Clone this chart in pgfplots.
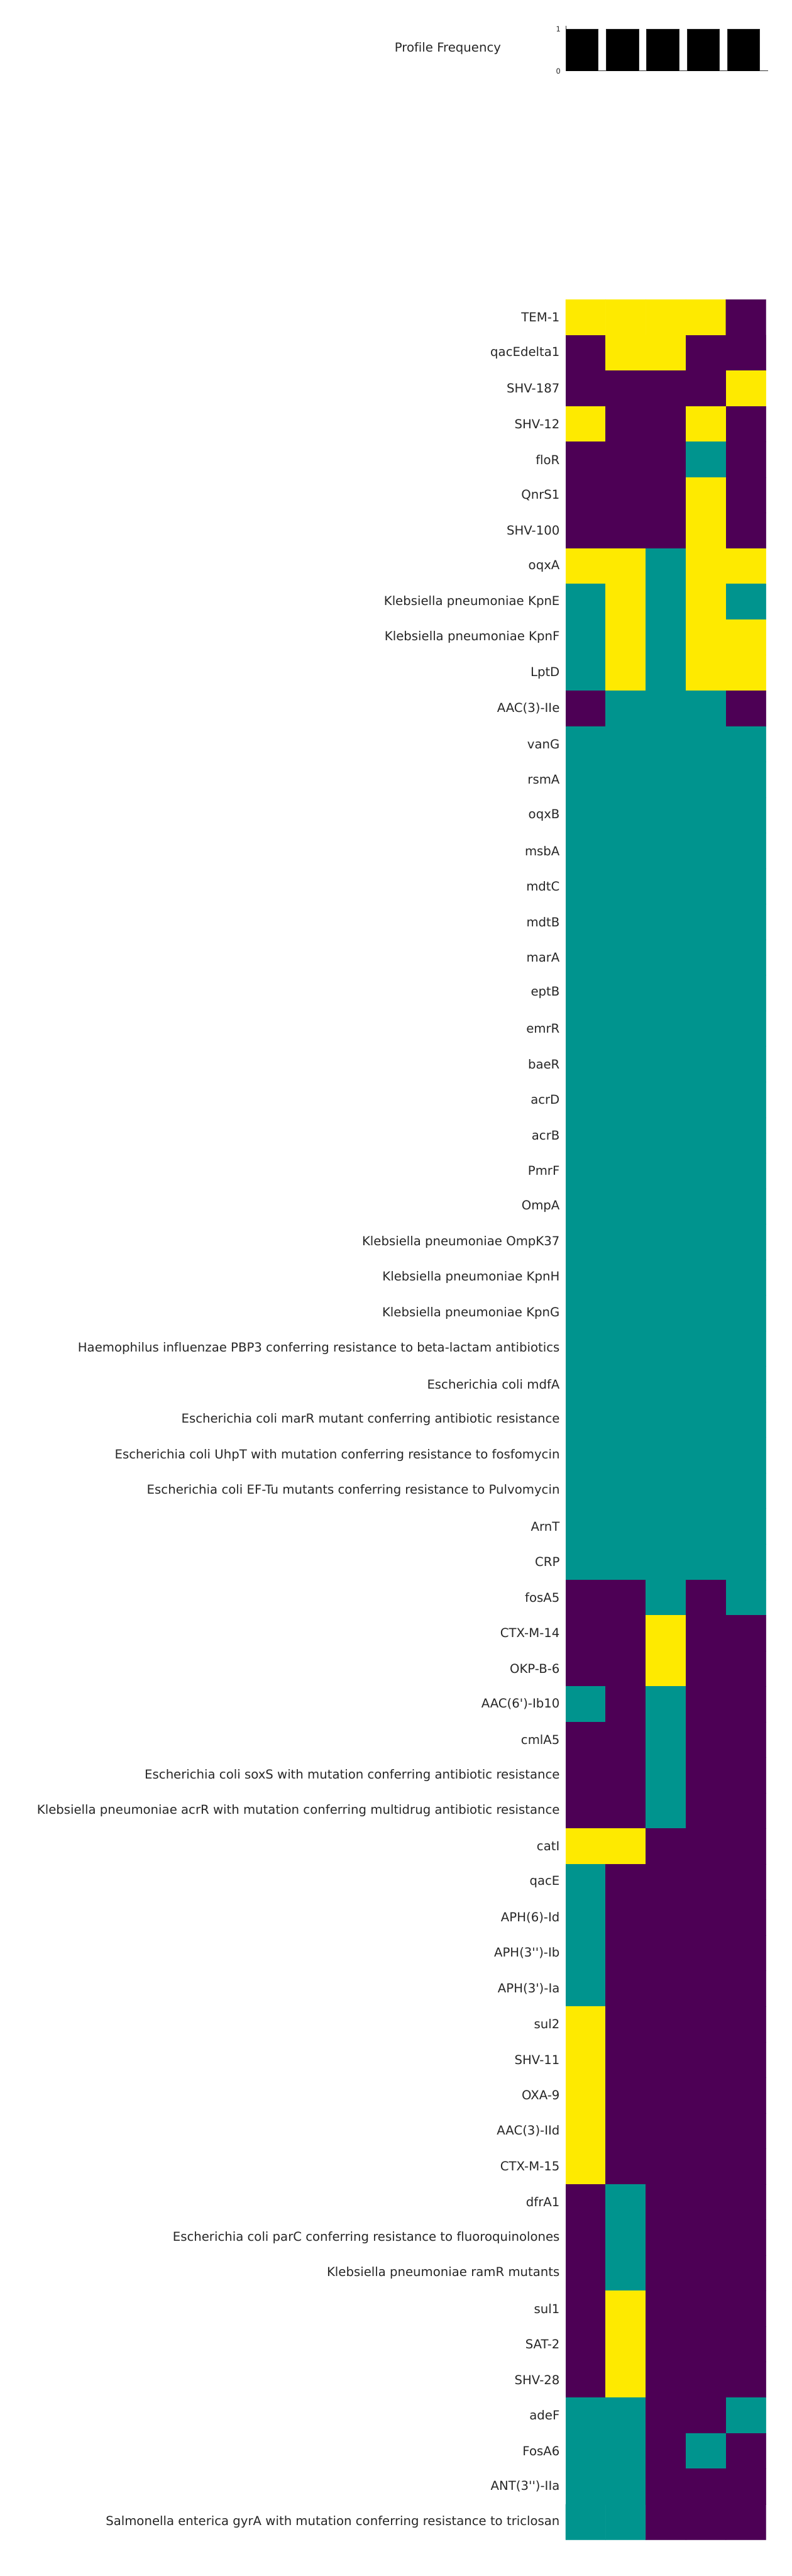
\documentclass[border=0pt]{standalone}
\usepackage{fontspec}
\newfontfamily\dv{DejaVu Sans}[Ligatures={TeXOff,CommonOff}]
\usepackage{pgfplots}
\pgfplotsset{compat=1.18}
\definecolor{txt}{HTML}{262626}
\begin{document}
\dv
\begin{tikzpicture}
\useasboundingbox (0,0) rectangle (1100.88pt,3579.12pt);
\begin{axis}[
  at={(786.24pt,50.4pt)}, anchor=south west, scale only axis,
  width=278.64pt, height=3112.56pt,
  xmin=-0.5, xmax=4.5, ymin=-0.5, ymax=62.5, y dir=reverse,
  xtick=\empty, ytick={0,...,62},
  yticklabels={{TEM-1},{qacEdelta1},{SHV-187},{SHV-12},{floR},{QnrS1},{SHV-100},{oqxA},{Klebsiella pneumoniae KpnE},{Klebsiella pneumoniae KpnF},{LptD},{AAC(3)-IIe},{vanG},{rsmA},{oqxB},{msbA},{mdtC},{mdtB},{marA},{eptB},{emrR},{baeR},{acrD},{acrB},{PmrF},{OmpA},{Klebsiella pneumoniae OmpK37},{Klebsiella pneumoniae KpnH},{Klebsiella pneumoniae KpnG},{Haemophilus influenzae PBP3 conferring resistance to beta-lactam antibiotics},{Escherichia coli mdfA},{Escherichia coli marR mutant conferring antibiotic resistance},{Escherichia coli UhpT with mutation conferring resistance to fosfomycin},{Escherichia coli EF-Tu mutants conferring resistance to Pulvomycin},{ArnT},{CRP},{fosA5},{CTX-M-14},{OKP-B-6},{AAC(6')-Ib10},{cmlA5},{Escherichia coli soxS with mutation conferring antibiotic resistance},{Klebsiella pneumoniae acrR with mutation conferring multidrug antibiotic resistance},{catI},{qacE},{APH(6)-Id},{APH(3'')-Ib},{APH(3')-Ia},{sul2},{SHV-11},{OXA-9},{AAC(3)-IId},{CTX-M-15},{dfrA1},{Escherichia coli parC conferring resistance to fluoroquinolones},{Klebsiella pneumoniae ramR mutants},{sul1},{SAT-2},{SHV-28},{adeF},{FosA6},{ANT(3'')-IIa},{Salmonella enterica gyrA with mutation conferring resistance to triclosan}},
  axis line style={draw=none}, major tick length=0pt,
  yticklabel style={font=\dv\fontsize{17.2}{20}\selectfont, text=txt, anchor=east, inner sep=0pt, xshift=-8pt},
  colormap={hm}{rgb255=(77,0,85) rgb255=(0,148,142) rgb255=(254,234,0)},
  colormap access=direct,
]
\addplot[matrix plot*, mesh/cols=5, mesh/rows=63, point meta=explicit] table[meta=c, row sep=\\] {
x y c\\
0 0 2\\ 1 0 2\\ 2 0 2\\ 3 0 2\\ 4 0 0\\
0 1 0\\ 1 1 2\\ 2 1 2\\ 3 1 0\\ 4 1 0\\
0 2 0\\ 1 2 0\\ 2 2 0\\ 3 2 0\\ 4 2 2\\
0 3 2\\ 1 3 0\\ 2 3 0\\ 3 3 2\\ 4 3 0\\
0 4 0\\ 1 4 0\\ 2 4 0\\ 3 4 1\\ 4 4 0\\
0 5 0\\ 1 5 0\\ 2 5 0\\ 3 5 2\\ 4 5 0\\
0 6 0\\ 1 6 0\\ 2 6 0\\ 3 6 2\\ 4 6 0\\
0 7 2\\ 1 7 2\\ 2 7 1\\ 3 7 2\\ 4 7 2\\
0 8 1\\ 1 8 2\\ 2 8 1\\ 3 8 2\\ 4 8 1\\
0 9 1\\ 1 9 2\\ 2 9 1\\ 3 9 2\\ 4 9 2\\
0 10 1\\ 1 10 2\\ 2 10 1\\ 3 10 2\\ 4 10 2\\
0 11 0\\ 1 11 1\\ 2 11 1\\ 3 11 1\\ 4 11 0\\
0 12 1\\ 1 12 1\\ 2 12 1\\ 3 12 1\\ 4 12 1\\
0 13 1\\ 1 13 1\\ 2 13 1\\ 3 13 1\\ 4 13 1\\
0 14 1\\ 1 14 1\\ 2 14 1\\ 3 14 1\\ 4 14 1\\
0 15 1\\ 1 15 1\\ 2 15 1\\ 3 15 1\\ 4 15 1\\
0 16 1\\ 1 16 1\\ 2 16 1\\ 3 16 1\\ 4 16 1\\
0 17 1\\ 1 17 1\\ 2 17 1\\ 3 17 1\\ 4 17 1\\
0 18 1\\ 1 18 1\\ 2 18 1\\ 3 18 1\\ 4 18 1\\
0 19 1\\ 1 19 1\\ 2 19 1\\ 3 19 1\\ 4 19 1\\
0 20 1\\ 1 20 1\\ 2 20 1\\ 3 20 1\\ 4 20 1\\
0 21 1\\ 1 21 1\\ 2 21 1\\ 3 21 1\\ 4 21 1\\
0 22 1\\ 1 22 1\\ 2 22 1\\ 3 22 1\\ 4 22 1\\
0 23 1\\ 1 23 1\\ 2 23 1\\ 3 23 1\\ 4 23 1\\
0 24 1\\ 1 24 1\\ 2 24 1\\ 3 24 1\\ 4 24 1\\
0 25 1\\ 1 25 1\\ 2 25 1\\ 3 25 1\\ 4 25 1\\
0 26 1\\ 1 26 1\\ 2 26 1\\ 3 26 1\\ 4 26 1\\
0 27 1\\ 1 27 1\\ 2 27 1\\ 3 27 1\\ 4 27 1\\
0 28 1\\ 1 28 1\\ 2 28 1\\ 3 28 1\\ 4 28 1\\
0 29 1\\ 1 29 1\\ 2 29 1\\ 3 29 1\\ 4 29 1\\
0 30 1\\ 1 30 1\\ 2 30 1\\ 3 30 1\\ 4 30 1\\
0 31 1\\ 1 31 1\\ 2 31 1\\ 3 31 1\\ 4 31 1\\
0 32 1\\ 1 32 1\\ 2 32 1\\ 3 32 1\\ 4 32 1\\
0 33 1\\ 1 33 1\\ 2 33 1\\ 3 33 1\\ 4 33 1\\
0 34 1\\ 1 34 1\\ 2 34 1\\ 3 34 1\\ 4 34 1\\
0 35 1\\ 1 35 1\\ 2 35 1\\ 3 35 1\\ 4 35 1\\
0 36 0\\ 1 36 0\\ 2 36 1\\ 3 36 0\\ 4 36 1\\
0 37 0\\ 1 37 0\\ 2 37 2\\ 3 37 0\\ 4 37 0\\
0 38 0\\ 1 38 0\\ 2 38 2\\ 3 38 0\\ 4 38 0\\
0 39 1\\ 1 39 0\\ 2 39 1\\ 3 39 0\\ 4 39 0\\
0 40 0\\ 1 40 0\\ 2 40 1\\ 3 40 0\\ 4 40 0\\
0 41 0\\ 1 41 0\\ 2 41 1\\ 3 41 0\\ 4 41 0\\
0 42 0\\ 1 42 0\\ 2 42 1\\ 3 42 0\\ 4 42 0\\
0 43 2\\ 1 43 2\\ 2 43 0\\ 3 43 0\\ 4 43 0\\
0 44 1\\ 1 44 0\\ 2 44 0\\ 3 44 0\\ 4 44 0\\
0 45 1\\ 1 45 0\\ 2 45 0\\ 3 45 0\\ 4 45 0\\
0 46 1\\ 1 46 0\\ 2 46 0\\ 3 46 0\\ 4 46 0\\
0 47 1\\ 1 47 0\\ 2 47 0\\ 3 47 0\\ 4 47 0\\
0 48 2\\ 1 48 0\\ 2 48 0\\ 3 48 0\\ 4 48 0\\
0 49 2\\ 1 49 0\\ 2 49 0\\ 3 49 0\\ 4 49 0\\
0 50 2\\ 1 50 0\\ 2 50 0\\ 3 50 0\\ 4 50 0\\
0 51 2\\ 1 51 0\\ 2 51 0\\ 3 51 0\\ 4 51 0\\
0 52 2\\ 1 52 0\\ 2 52 0\\ 3 52 0\\ 4 52 0\\
0 53 0\\ 1 53 1\\ 2 53 0\\ 3 53 0\\ 4 53 0\\
0 54 0\\ 1 54 1\\ 2 54 0\\ 3 54 0\\ 4 54 0\\
0 55 0\\ 1 55 1\\ 2 55 0\\ 3 55 0\\ 4 55 0\\
0 56 0\\ 1 56 2\\ 2 56 0\\ 3 56 0\\ 4 56 0\\
0 57 0\\ 1 57 2\\ 2 57 0\\ 3 57 0\\ 4 57 0\\
0 58 0\\ 1 58 2\\ 2 58 0\\ 3 58 0\\ 4 58 0\\
0 59 1\\ 1 59 1\\ 2 59 0\\ 3 59 0\\ 4 59 1\\
0 60 1\\ 1 60 1\\ 2 60 0\\ 3 60 1\\ 4 60 0\\
0 61 1\\ 1 61 1\\ 2 61 0\\ 3 61 0\\ 4 61 0\\
0 62 1\\ 1 62 1\\ 2 62 0\\ 3 62 0\\ 4 62 0\\
};
\end{axis}
\begin{axis}[
  at={(786.6pt,3480.48pt)}, anchor=south west, scale only axis,
  width=280.8pt, height=62.64pt,
  xmin=-0.4, xmax=4.6, ymin=0, ymax=1.08,
  axis x line*=bottom, axis y line*=left,
  axis line style={-, draw=black!80, line width=0.9pt},
  xtick=\empty, ytick={0,1}, major tick length=0pt,
  /pgf/number format/assume math mode=true,
  yticklabel style={font=\dv\fontsize{10}{12}\selectfont, text=txt, anchor=east, inner sep=0pt, xshift=-7pt},
  ylabel={Profile Frequency},
  every axis y label/.style={at={(axis description cs:0,0.5)}, anchor=east, xshift=-90pt, inner sep=0pt, font=\dv\fontsize{17.2}{20}\selectfont, text=txt},
]
\addplot[ybar, bar width=0.8, bar shift=0pt, fill=black, draw=black!85, line width=0.5pt] coordinates {(0,1) (1,1) (2,1) (3,1) (4,1)};
\end{axis}
\end{tikzpicture}
\end{document}
